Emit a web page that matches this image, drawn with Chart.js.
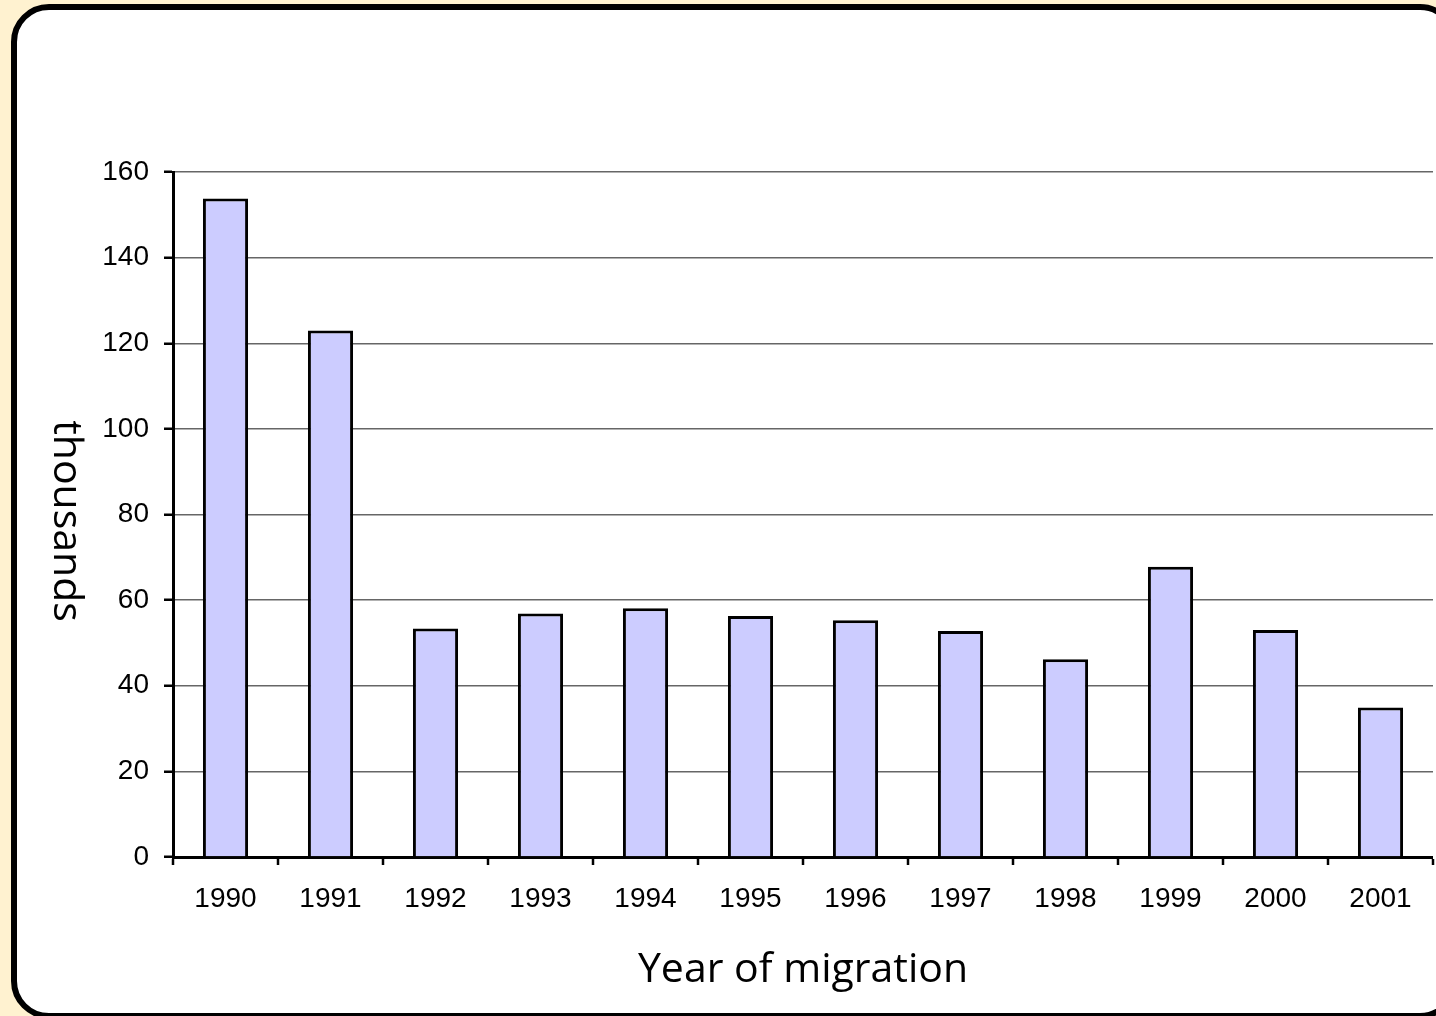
<!DOCTYPE html>
<html>
<head>
<meta charset="utf-8">
<script src="https://cdn.jsdelivr.net/npm/chart.js@4/dist/chart.umd.min.js"></script>
<style>
  html, body { margin: 0; padding: 0; }
  body { width: 1436px; height: 1016px; overflow: hidden; background: #fff2d0; position: relative; }
  #panel {
    position: absolute; left: 11px; top: 4px; width: 1447px; height: 1015px;
    box-sizing: border-box; border: 6px solid #000; border-radius: 38px; background: #fff;
  }
  #wrap { position: absolute; left: 0; top: 0; width: 1436px; height: 1016px; }
</style>
</head>
<body>
<div id="panel"></div>
<div id="wrap"><canvas id="chart"></canvas></div>
<script>
// values (thousands)
const years = ["1990", "1991", "1992", "1993", "1994", "1995", "1996", "1997", "1998", "1999", "2000", "2001"];
const migrants = [153.8, 123.0, 53.4, 56.9, 58.1, 56.3, 55.3, 52.8, 46.2, 67.8, 53.0, 34.9];
const yTitle = "thousands";
const xTitle = "Year of migration";

const tickFont = { family: "'Liberation Sans', Arial, sans-serif", size: 28 };
const titleFont = { family: "'Open Sans', 'Noto Sans', sans-serif", size: 41 };

// "thousands" reads top-to-bottom in the original, so draw it turned clockwise
const yTitlePlugin = {
  id: "yTitle",
  afterDraw(chart) {
    const ctx = chart.ctx;
    ctx.save();
    ctx.translate(66, 521);
    ctx.rotate(Math.PI / 2);
    ctx.font = titleFont.size + "px " + titleFont.family;
    ctx.fillStyle = "#000";
    ctx.textAlign = "center";
    ctx.textBaseline = "middle";
    ctx.fillText(yTitle, 0, 0);
    ctx.restore();
  },
};

new Chart(document.getElementById("chart"), {
  type: "bar",
  data: {
    labels: years,
    datasets: [{
      data: migrants,
      backgroundColor: "#ccccff",
      borderColor: "#000",
      borderWidth: 3,
      barPercentage: 0.43,
      categoryPercentage: 1,
    }],
  },
  options: {
    responsive: true,
    maintainAspectRatio: false,
    animation: false,
    layout: { padding: { top: 172, right: 3, bottom: 21, left: 0 } },
    plugins: { legend: { display: false }, tooltip: { enabled: false } },
    scales: {
      x: {
        afterFit: s => { s.height = 138; },
        grid: {
          offset: true,
          drawOnChartArea: true,
          color: c => (c.index === years.length ? "#666" : "rgba(0,0,0,0)"),
          lineWidth: c => (c.index === years.length ? 2 : 0),
          tickColor: "#000",
          tickWidth: 2.5,
          tickLength: 8,
        },
        border: { color: "#000", width: 3 },
        ticks: { color: "#000", font: tickFont, padding: 17, maxRotation: 0 },
        title: { display: true, text: xTitle, color: "#000", font: titleFont, padding: 0 },
      },
      y: {
        min: 0,
        max: 160,
        afterFit: s => { s.width = 173; },
        grid: {
          color: "#666",
          lineWidth: 1.5,
          tickColor: "#000",
          tickWidth: 2.5,
          tickLength: 9,
        },
        border: { color: "#000", width: 3 },
        ticks: { stepSize: 20, color: "#000", font: tickFont, padding: 15 },
      },
    },
  },
  plugins: [yTitlePlugin],
});
</script>
</body>
</html>
